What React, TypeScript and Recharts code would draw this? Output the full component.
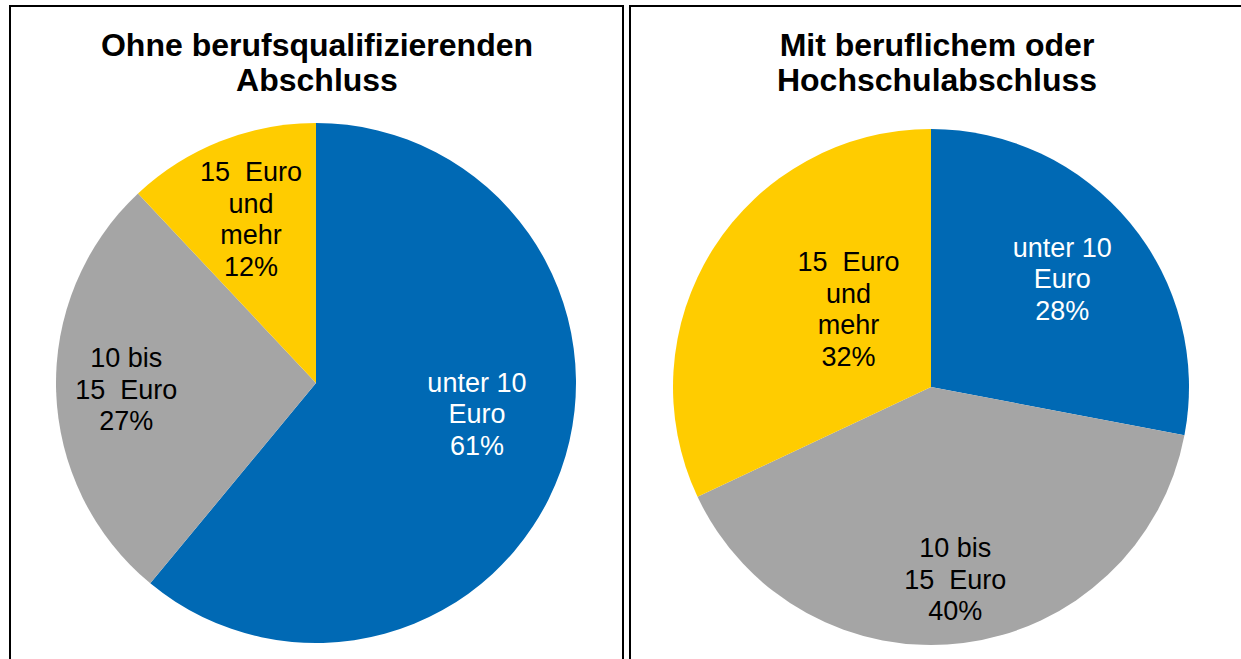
import { PieChart, Pie, Cell } from 'recharts';

// categories (line breaks as in the source chart)
const CATEGORIES = ['unter 10\nEuro', '10 bis\n15  Euro', '15  Euro\nund\nmehr'];
const OHNE_VALUES = [61, 27, 12];
const MIT_VALUES = [28, 40, 32];
const OHNE_TITLE = ['Ohne berufsqualifizierenden', 'Abschluss'];
const MIT_TITLE = ['Mit beruflichem oder', 'Hochschulabschluss'];

const COLORS = ['#0069B4', '#A5A5A5', '#FFCC00'];
const TEXT_COLORS = ['#ffffff', '#000000', '#000000'];
const FONT = '"Liberation Sans", Arial, sans-serif';

// label placement: [radius ratio, clockwise angle shift in degrees]
const OHNE_LABEL_POS = [[0.63, -9], [0.73, 0], [0.68, 0]];
const MIT_LABEL_POS = [[0.66, 0], [0.75, 0], [0.44, 11]];

const RAD = Math.PI / 180;

const makeLabel = (placement: number[][]) => (props: any) => {
  const { cx, cy, midAngle, outerRadius, index, value } = props;
  const [ratio, shift] = placement[index];
  const ang = (midAngle - shift) * RAD;
  const r = outerRadius * ratio;
  const x = cx + r * Math.cos(-ang);
  const y = cy + r * Math.sin(-ang);
  const lines = [...CATEGORIES[index].split('\n'), `${value}%`];
  const lh = 31.5;
  return (
    <text
      x={x}
      y={y}
      textAnchor="middle"
      fill={TEXT_COLORS[index]}
      fontFamily={FONT}
      fontSize={27}
      style={{ whiteSpace: 'pre' }}
    >
      {lines.map((l, i) => (
        <tspan key={i} x={x} y={y + (i - (lines.length - 1) / 2) * lh} dy="0.36em">
          {l}
        </tspan>
      ))}
    </text>
  );
};

const toData = (vals: number[]) => CATEGORIES.map((name, i) => ({ name, value: vals[i] }));

function Title({ lines, center }: { lines: string[]; center: number }) {
  return (
    <div
      style={{
        position: 'absolute',
        left: center - 300,
        top: 28,
        width: 600,
        textAlign: 'center',
        fontFamily: FONT,
        fontWeight: 'bold',
        fontSize: 32,
        lineHeight: '35px',
        color: '#000',
      }}
    >
      {lines.map((l, i) => (
        <div key={i}>{l}</div>
      ))}
    </div>
  );
}

export default function App() {
  return (
    <div
      style={{
        position: 'absolute',
        left: 0,
        top: 0,
        width: 1241,
        height: 659,
        overflow: 'hidden',
        background: '#fff',
      }}
    >
      <div
        style={{
          position: 'absolute', left: 9, top: 5, width: 615, height: 700,
          border: '2px solid #000', boxSizing: 'border-box',
        }}
      />
      <div
        style={{
          position: 'absolute', left: 629, top: 5, width: 700, height: 700,
          border: '2px solid #000', boxSizing: 'border-box',
        }}
      />
      <Title lines={OHNE_TITLE} center={317} />
      <Title lines={MIT_TITLE} center={937} />
      <div style={{ position: 'absolute', left: 0, top: 0 }}>
        <PieChart width={1241} height={659} margin={{ top: 0, right: 0, bottom: 0, left: 0 }}>
          <Pie
            data={toData(OHNE_VALUES)}
            dataKey="value"
            cx={316}
            cy={383}
            outerRadius={260}
            startAngle={90}
            endAngle={-270}
            stroke="none"
            labelLine={false}
            label={makeLabel(OHNE_LABEL_POS)}
            isAnimationActive={false}
          >
            {OHNE_VALUES.map((_, i) => (
              <Cell key={i} fill={COLORS[i]} />
            ))}
          </Pie>
          <Pie
            data={toData(MIT_VALUES)}
            dataKey="value"
            cx={931}
            cy={387}
            outerRadius={258}
            startAngle={90}
            endAngle={-270}
            stroke="none"
            labelLine={false}
            label={makeLabel(MIT_LABEL_POS)}
            isAnimationActive={false}
          >
            {MIT_VALUES.map((_, i) => (
              <Cell key={i} fill={COLORS[i]} />
            ))}
          </Pie>
        </PieChart>
      </div>
    </div>
  );
}
